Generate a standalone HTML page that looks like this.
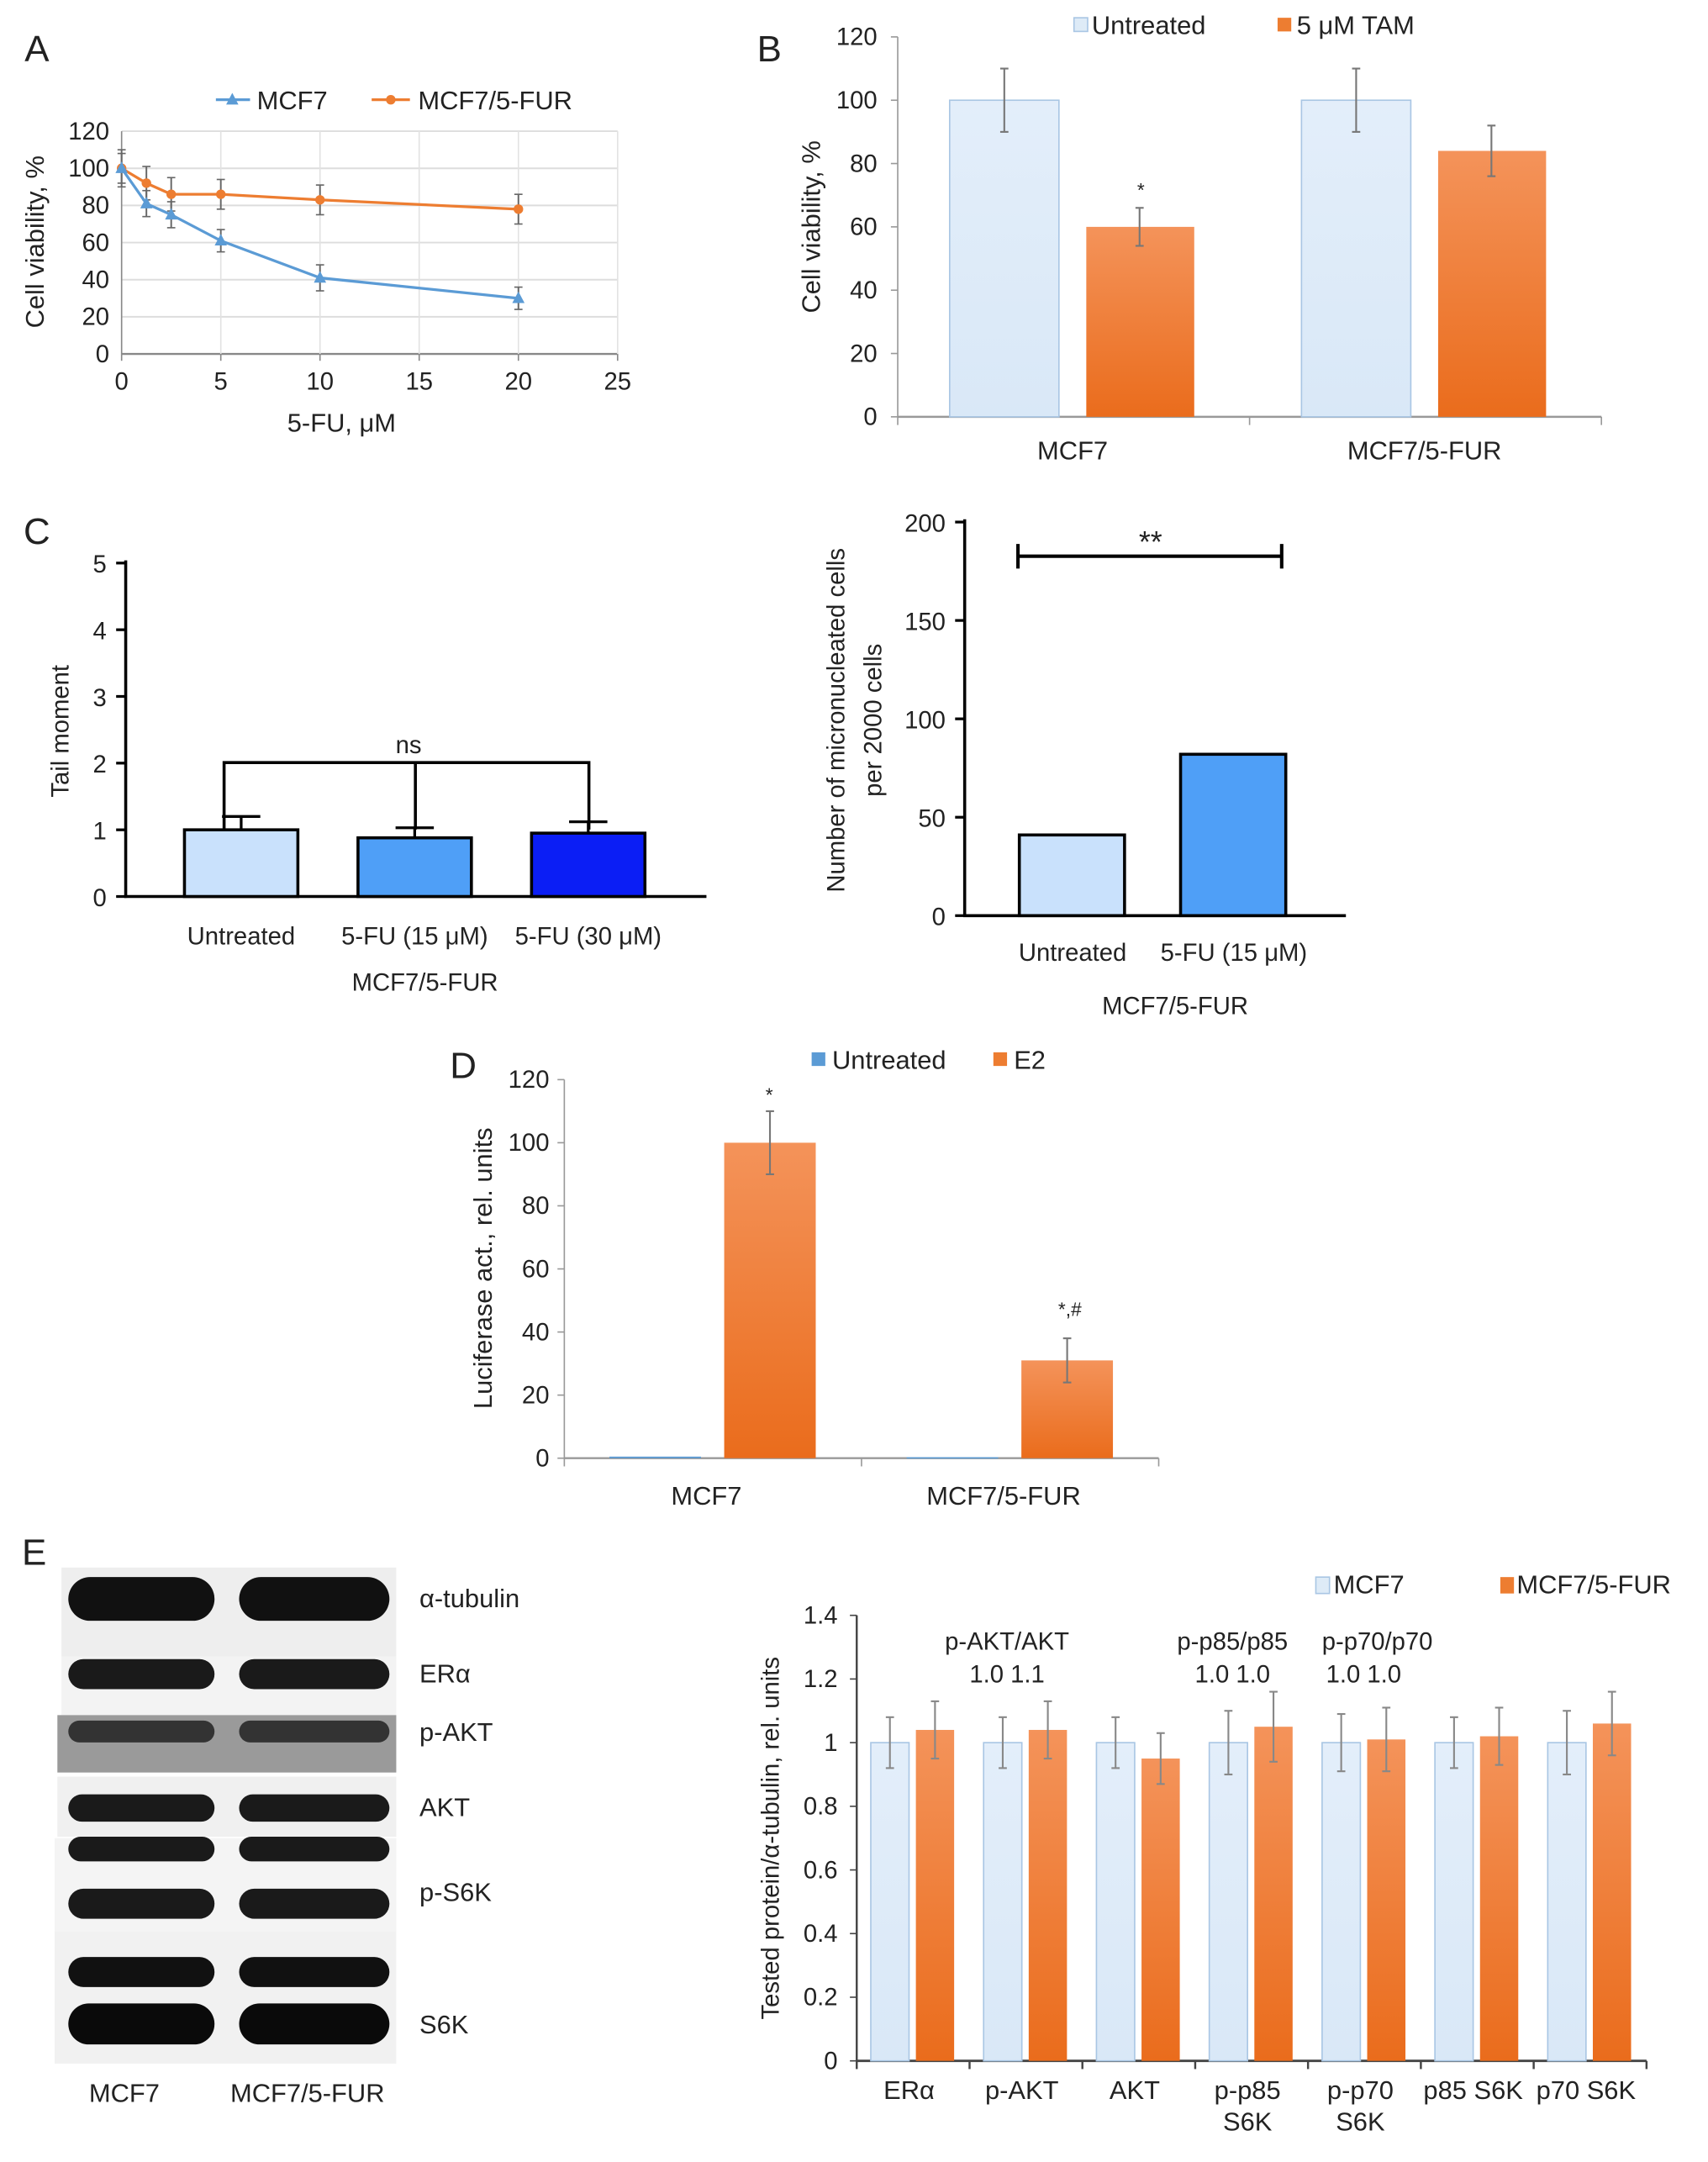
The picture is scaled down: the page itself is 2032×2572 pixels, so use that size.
<!DOCTYPE html>
<html><head><meta charset="utf-8"><style>
html,body{margin:0;padding:0;background:#fff}
svg{display:block}
text{font-family:"Liberation Sans",sans-serif;fill:#222}
</style></head><body>
<svg id="fig" width="2032" height="2572" viewBox="0 0 1250 1582" preserveAspectRatio="none" xmlns="http://www.w3.org/2000/svg">
<defs>
<linearGradient id="og" x1="0" y1="0" x2="0" y2="1"><stop offset="0" stop-color="#f4935a"/><stop offset="1" stop-color="#ea6c1c"/></linearGradient>
<linearGradient id="lb" x1="0" y1="0" x2="0" y2="1"><stop offset="0" stop-color="#e3eefa"/><stop offset="1" stop-color="#d9e8f7"/></linearGradient>
</defs>
<g id="root"></g>
</svg>
<script>
// Panel A data
const aX=[0,1.25,2.5,5,10,20];
const aMCF7=[100,81,75,61,41,30];
const aMCF7Err=[10,7,7,6,7,6];
const aFUR=[100,92,86,86,83,78];
const aFURErr=[8,9,9,8,8,8];
const aYTicks=[0,20,40,60,80,100,120];
const aXTicks=[0,5,10,15,20,25];
// Panel B data
const bCats=["MCF7","MCF7/5-FUR"];
const bUntreated=[100,100];
const bUntreatedErr=[10,10];
const bTAM=[60,84];
const bTAMErr=[6,8];
const bYTicks=[0,20,40,60,80,100,120];
// Panel C left
const cCats=["Untreated","5-FU (15 μM)","5-FU (30 μM)"];
const cVals=[1.0,0.88,0.95];
const cErr=[0.2,0.15,0.17];
const cYTicks=[0,1,2,3,4,5];
// Panel C right
const c2Cats=["Untreated","5-FU (15 μM)"];
const c2Vals=[41,82];
const c2YTicks=[0,50,100,150,200];
// Panel D
const dCats=["MCF7","MCF7/5-FUR"];
const dUntreated=[0.5,0.3];
const dE2=[100,31];
const dE2Err=[10,7];
const dYTicks=[0,20,40,60,80,100,120];
// Panel E
const eCats=[["ERα"],["p-AKT"],["AKT"],["p-p85","S6K"],["p-p70","S6K"],["p85 S6K"],["p70 S6K"]];
const eMCF7=[1,1,1,1,1,1,1];
const eMCF7Err=[0.08,0.08,0.08,0.1,0.09,0.08,0.1];
const eFUR=[1.04,1.04,0.95,1.05,1.01,1.02,1.06];
const eFURErr=[0.09,0.09,0.08,0.11,0.1,0.09,0.1];
const eYTicks=[0,0.2,0.4,0.6,0.8,1,1.2,1.4];
const eYLabels=["0","0.2","0.4","0.6","0.8","1","1.2","1.4"];

const NS="http://www.w3.org/2000/svg";
const root=document.getElementById('root');
function el(tag,attrs,parent,txt){const e=document.createElementNS(NS,tag);for(const k in attrs)e.setAttribute(k,attrs[k]);if(txt!==undefined)e.textContent=txt;(parent||root).appendChild(e);return e;}
function lin(d0,d1,r0,r1){return v=>r0+(v-d0)*(r1-r0)/(d1-d0);}
function txt(x,y,s,size,anchor,parent,rot){const a={x:x,y:y,'font-size':size,'text-anchor':anchor||'middle'};if(rot)a.transform='rotate(-90 '+x+' '+y+')';const t=el('text',a,parent,s);return t;}

// panel letters
[["A",27,45],["B",563,45],["C",27,398],["D",339,789],["E",25,1145]].forEach(p=>{const t=txt(p[1],p[2],p[0],27,'middle');});

// ---------- Panel A ----------
(function(){
const g=el('g',{});
const x=lin(0,25,89,452), y=lin(0,120,259,96);
aYTicks.forEach(v=>{el('line',{x1:89,x2:452,y1:y(v),y2:y(v),stroke:v?'#ddd':'#888','stroke-width':v?1.2:1.5},g);const t=txt(80,y(v)+6,String(v),18,'end',g);});
aXTicks.forEach(v=>{if(v)el('line',{x1:x(v),x2:x(v),y1:96,y2:259,stroke:'#e2e2e2'},g);el('line',{x1:x(v),x2:x(v),y1:259,y2:264,stroke:'#888'},g);const t=txt(x(v),285,String(v),18,'middle',g);});
el('line',{x1:89,x2:89,y1:96,y2:259,stroke:'#888'},g);
function series(vals,errs,col,name,marker){
  let d='';vals.forEach((v,i)=>{d+=(i?'L':'M')+x(aX[i])+' '+y(v);});
  const p=el('path',{d:d,fill:'none',stroke:col,'stroke-width':2},g);
  vals.forEach((v,i)=>{const cx=x(aX[i]),cy=y(v);
    el('line',{x1:cx,x2:cx,y1:y(v+errs[i]),y2:y(v-errs[i]),stroke:'#666','stroke-width':1.2},g);
    el('line',{x1:cx-3,x2:cx+3,y1:y(v+errs[i]),y2:y(v+errs[i]),stroke:'#666'},g);
    el('line',{x1:cx-3,x2:cx+3,y1:y(v-errs[i]),y2:y(v-errs[i]),stroke:'#666'},g);
    let m;if(marker==='tri')m=el('path',{d:`M${cx} ${cy-5}L${cx+4.5} ${cy+3.5}L${cx-4.5} ${cy+3.5}Z`,fill:col},g);else m=el('circle',{cx:cx,cy:cy,r:3.5,fill:col},g);
    });
}
series(aFUR,aFURErr,'#ed7d31','mcf7-5fur','dot');
series(aMCF7,aMCF7Err,'#5b9bd5','mcf7','tri');
const l1=el('g',{},g);
el('line',{x1:158,x2:183,y1:73,y2:73,stroke:'#5b9bd5','stroke-width':2},l1);el('path',{d:'M170 68L174.5 76.5L165.5 76.5Z',fill:'#5b9bd5'},l1);txt(188,80,'MCF7',19,'start',l1);
const l2=el('g',{},g);
el('line',{x1:272,x2:300,y1:73,y2:73,stroke:'#ed7d31','stroke-width':2},l2);el('circle',{cx:286,cy:73,r:3.5,fill:'#ed7d31'},l2);txt(306,80,'MCF7/5-FUR',19,'start',l2);
const xt=txt(250,316,'5-FU, μM',19,'middle',g);
const yt=txt(32,177,'Cell viability, %',19,'middle',g,true);
})();

// generic error bar
function ebar(g,cx,yTop,yBot,c){el('line',{x1:cx,x2:cx,y1:yTop,y2:yBot,stroke:c||'#777','stroke-width':1.3},g);el('line',{x1:cx-3,x2:cx+3,y1:yTop,y2:yTop,stroke:c||'#777','stroke-width':1.3},g);el('line',{x1:cx-3,x2:cx+3,y1:yBot,y2:yBot,stroke:c||'#777','stroke-width':1.3},g);}

// ---------- Panel B ----------
(function(){
const g=el('g',{});
const y=lin(0,120,305,27);const gw=257.5,x0=657;
el('line',{x1:657,x2:657,y1:27,y2:305,stroke:'#999'},g);
el('line',{x1:657,x2:1172,y1:305,y2:305,stroke:'#999','stroke-width':1.5},g);
bYTicks.forEach(v=>{el('line',{x1:652,x2:657,y1:y(v),y2:y(v),stroke:'#999'},g);const t=txt(642,y(v)+6,String(v),18,'end',g);});
[0,1,2].forEach(i=>el('line',{x1:x0+i*gw,x2:x0+i*gw,y1:305,y2:311,stroke:'#999'},g));
bCats.forEach((c,i)=>{const gx=x0+i*gw;
 const r1=el('rect',{x:gx+38,y:y(bUntreated[i]),width:80,height:y(0)-y(bUntreated[i]),fill:'url(#lb)',stroke:'#a9c6e4','stroke-width':1},g);
 const r2=el('rect',{x:gx+138,y:y(bTAM[i]),width:79,height:y(0)-y(bTAM[i]),fill:'url(#og)'},g);
 ebar(g,gx+78,y(bUntreated[i]+bUntreatedErr[i]),y(bUntreated[i]-bUntreatedErr[i]));
 ebar(g,gx+177,y(bTAM[i]+bTAMErr[i]),y(bTAM[i]-bTAMErr[i]));
 const t=txt(gx+128,336,c,19,'middle',g);
});
txt(835,144,'*',14,'middle',g);
const l1=el('g',{},g);
el('rect',{x:786,y:13,width:10,height:10,fill:'#deebf7',stroke:'#a9c6e4'},l1);txt(799,25,'Untreated',19,'start',l1);
const l2=el('g',{},g);
el('rect',{x:935,y:13,width:10,height:10,fill:'#ed7d31'},l2);txt(949,25,'5 μM TAM',19,'start',l2);
const yt=txt(600,166,'Cell viability, %',19,'middle',g,true);
})();

// ---------- Panel C left ----------
(function(){
const g=el('g',{});
const y=lin(0,5,656,412);const cols=['#c9e1fc','#4f9ff7','#0b1ef5'];const bx=[135,262,389];
el('line',{x1:92,x2:92,y1:410,y2:657,stroke:'#000','stroke-width':2.2},g);
el('line',{x1:91,x2:517,y1:656,y2:656,stroke:'#000','stroke-width':2.2},g);
cYTicks.forEach(v=>{el('line',{x1:85,x2:92,y1:y(v),y2:y(v),stroke:'#000','stroke-width':2},g);const t=txt(78,y(v)+7,String(v),18,'end',g);});
cCats.forEach((c,i)=>{const cx=bx[i]+41.5;
 el('line',{x1:cx,x2:cx,y1:y(cVals[i]),y2:y(cVals[i]+cErr[i]),stroke:'#000','stroke-width':2},g);
 el('line',{x1:cx-14,x2:cx+14,y1:y(cVals[i]+cErr[i]),y2:y(cVals[i]+cErr[i]),stroke:'#000','stroke-width':2},g);
 const r=el('rect',{x:bx[i],y:y(cVals[i]),width:83,height:y(0)-y(cVals[i]),fill:cols[i],stroke:'#000','stroke-width':2.2},g);
 const t=txt(cx,691,c,18,'middle',g);
});
const br=el('path',{d:'M164 607V558H431V607M304 558V607',fill:'none',stroke:'#000','stroke-width':2.2},g);
txt(299,551,'ns',18,'middle',g);
const gl=txt(311,725,'MCF7/5-FUR',18,'middle',g);
const yt=txt(50,535,'Tail moment',18,'middle',g,true);
})();

// ---------- Panel C right ----------
(function(){
const g=el('g',{});
const y=lin(0,200,670,382);const cols=['#c9e1fc','#4f9ff7'];const bx=[746,864];
el('line',{x1:706,x2:706,y1:380,y2:671,stroke:'#000','stroke-width':2.2},g);
el('line',{x1:705,x2:985,y1:670,y2:670,stroke:'#000','stroke-width':2.2},g);
c2YTicks.forEach(v=>{el('line',{x1:699,x2:706,y1:y(v),y2:y(v),stroke:'#000','stroke-width':2},g);const t=txt(692,y(v)+7,String(v),18,'end',g);});
c2Cats.forEach((c,i)=>{
 const r=el('rect',{x:bx[i],y:y(c2Vals[i]),width:77,height:y(0)-y(c2Vals[i]),fill:cols[i],stroke:'#000','stroke-width':2.2},g);
 const t=txt(bx[i]+39,703,c,18,'middle',g);
});
const br=el('path',{d:'M745 398V416M745 407H938M938 398V416',fill:'none',stroke:'#000','stroke-width':2.5},g);
txt(842,404,'**',22,'middle',g);
const gl=txt(860,742,'MCF7/5-FUR',18,'middle',g);
const yt=txt(618,527,'Number of micronucleated cells',18,'middle',g,true);
txt(645,527,'per 2000 cells',18,'middle',g,true);
})();

// ---------- Panel D ----------
(function(){
const g=el('g',{});
const y=lin(0,120,1067,790);const gw=217.5,x0=413;
el('line',{x1:413,x2:413,y1:790,y2:1067,stroke:'#999'},g);
el('line',{x1:413,x2:848,y1:1067,y2:1067,stroke:'#999','stroke-width':1.5},g);
dYTicks.forEach(v=>{el('line',{x1:408,x2:413,y1:y(v),y2:y(v),stroke:'#999'},g);const t=txt(402,y(v)+6,String(v),18,'end',g);});
[0,1,2].forEach(i=>el('line',{x1:x0+i*gw,x2:x0+i*gw,y1:1067,y2:1073,stroke:'#999'},g));
dCats.forEach((c,i)=>{const gx=x0+i*gw;
 const r1=el('rect',{x:gx+33,y:y(dUntreated[i]),width:67,height:Math.max(1,y(0)-y(dUntreated[i])),fill:'#5b9bd5'},g);
 const r2=el('rect',{x:gx+117,y:y(dE2[i]),width:67,height:y(0)-y(dE2[i]),fill:'url(#og)'},g);
 ebar(g,gx+150.5,y(dE2[i]+dE2Err[i]),y(dE2[i]-dE2Err[i]));
 const t=txt(gx+104,1101,c,19,'middle',g);
});
txt(563,806,'*',14,'middle',g);txt(783,963,'*,#',14,'middle',g);
const l1=el('g',{},g);
el('rect',{x:594,y:770,width:10,height:10,fill:'#5b9bd5'},l1);txt(609,782,'Untreated',19,'start',l1);
const l2=el('g',{},g);
el('rect',{x:727,y:770,width:10,height:10,fill:'#ed7d31'},l2);txt(742,782,'E2',19,'start',l2);
const yt=txt(360,928,'Luciferase act., rel. units',19,'middle',g,true);
})();

// ---------- Panel E blots ----------
(function(){
const g=el('g',{});
const strips=[[45,1147,245,65,'#eee'],[45,1212,245,43,'#f3f3f3'],[42,1255,248,42,'#9a9a9a'],[42,1300,248,44,'#f0f0f0'],[40,1345,250,68,'#f4f4f4'],[40,1413,250,97,'#f1f1f1']];
strips.forEach(s=>el('rect',{x:s[0],y:s[1],width:s[2],height:s[3],fill:s[4]},g));
const bands=[[1170,16,'#111'],[1225,11,'#1a1a1a'],[1267,8,'#333'],[1323,10,'#1a1a1a'],[1353,9,'#1a1a1a'],[1393,11,'#1a1a1a'],[1443,11,'#111'],[1481,15,'#0a0a0a']];
bands.forEach((b,i)=>{[[50,157],[175,285]].forEach((xx,j)=>{const bd=el('rect',{x:xx[0],y:b[0]-b[1],width:xx[1]-xx[0],height:b[1]*2,rx:b[1],fill:b[2]},g);});});
[["α-tubulin",1176],["ERα",1231],["p-AKT",1274],["AKT",1329],["p-S6K",1391],["S6K",1488]].forEach(l=>{const t=txt(307,l[1],l[0],19,'start',g);});
txt(91,1538,'MCF7',19,'middle',g);txt(225,1538,'MCF7/5-FUR',19,'middle',g);
})();

// ---------- Panel E bar chart ----------
(function(){
const g=el('g',{});
const y=lin(0,1.4,1508,1182);const x0=627,gw=(1205-627)/7;
el('line',{x1:627,x2:627,y1:1182,y2:1508,stroke:'#444','stroke-width':1.5},g);
el('line',{x1:627,x2:1205,y1:1508,y2:1508,stroke:'#444','stroke-width':1.8},g);
eYTicks.forEach((v,i)=>{el('line',{x1:622,x2:627,y1:y(v),y2:y(v),stroke:'#444'},g);const t=txt(613,y(v)+6,eYLabels[i],18,'end',g);});
for(let i=0;i<=7;i++)el('line',{x1:x0+i*gw,x2:x0+i*gw,y1:1508,y2:1514,stroke:'#444','stroke-width':1.5},g);
eCats.forEach((c,i)=>{const cx=x0+(i+0.5)*gw;
 const r1=el('rect',{x:cx-31,y:y(eMCF7[i]),width:28,height:y(0)-y(eMCF7[i]),fill:'url(#lb)',stroke:'#a9c6e4'},g);
 const r2=el('rect',{x:cx+2,y:y(eFUR[i]),width:28,height:y(0)-y(eFUR[i]),fill:'url(#og)'},g);
 ebar(g,cx-17,y(eMCF7[i]+eMCF7Err[i]),y(eMCF7[i]-eMCF7Err[i]),'#888');
 ebar(g,cx+16,y(eFUR[i]+eFURErr[i]),y(eFUR[i]-eFURErr[i]),'#888');
 c.forEach((s,k)=>{const t=txt(cx-3,1536+k*23,s,19,'middle',g);});
});
[["p-AKT/AKT",737],["p-p85/p85",902],["p-p70/p70",1008]].forEach(a=>{const t=txt(a[1],1207,a[0],18,'middle',g);});
[["1.0  1.1",737],["1.0  1.0",902],["1.0 1.0",998]].forEach(a=>txt(a[1],1231,a[0],18,'middle',g));
const l1=el('g',{},g);
el('rect',{x:963,y:1154,width:10,height:12,fill:'#deebf7',stroke:'#a9c6e4'},l1);txt(976,1166,'MCF7',19,'start',l1);
const l2=el('g',{},g);
el('rect',{x:1098,y:1154,width:10,height:12,fill:'#ed7d31'},l2);txt(1110,1166,'MCF7/5-FUR',19,'start',l2);
const yt=txt(570,1345,'Tested protein/α-tubulin, rel. units',18,'middle',g,true);
})();
</script>
</body></html>
